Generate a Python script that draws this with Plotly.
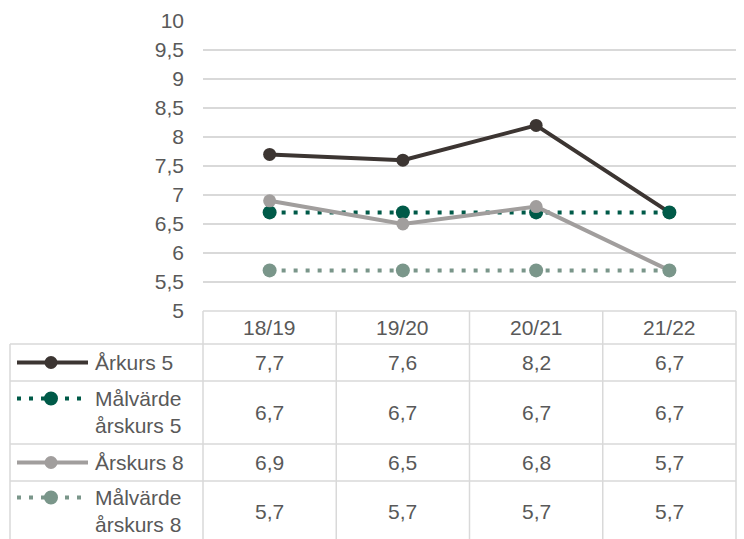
import plotly.graph_objects as go

# ---------------- data ----------------
years = ["18/19", "19/20", "20/21", "21/22"]
series_names = ["Årkurs 5", "Målvärde\nårskurs 5", "Årskurs 8", "Målvärde\nårskurs 8"]
arkurs5 = [7.7, 7.6, 8.2, 6.7]
malvarde5 = [6.7, 6.7, 6.7, 6.7]
arskurs8 = [6.9, 6.5, 6.8, 5.7]
malvarde8 = [5.7, 5.7, 5.7, 5.7]
y_tick_vals = [5, 5.5, 6, 6.5, 7, 7.5, 8, 8.5, 9, 9.5, 10]

# ---------------- styling / layout constants ----------------
W, H = 744, 539
PLOT_L, PLOT_R, PLOT_T, PLOT_B = 203, 736, 21, 311
TABLE_L = 10
ROW_EDGES = [311, 344, 381, 444, 481, 542]
FONT = "Liberation Sans, Arial, sans-serif"
FS = 21
TXT = "#595959"
GRID = "#D9D9D9"

styles = [
    dict(color="#3C3532", dash="solid", msize=13),
    dict(color="#005A48", dash="4px,8px", msize=14),
    dict(color="#A19E9D", dash="solid", msize=13),
    dict(color="#7A968A", dash="4px,8px", msize=14),
]
all_series = [arkurs5, malvarde5, arskurs8, malvarde8]


def px(x):
    return x / W


def py(y):
    return 1 - y / H


x_idx = list(range(len(years)))

fig = go.Figure()
for name, vals, st in zip(series_names, all_series, styles):
    fig.add_trace(go.Scatter(
        x=x_idx, y=vals, name=name.replace("\n", " "), mode="lines+markers",
        line=dict(color=st["color"], width=4, dash=st["dash"]),
        marker=dict(color=st["color"], size=st["msize"]),
        showlegend=False, hoverinfo="skip",
    ))

shapes = []
annotations = []

n = len(years)
col_w = (PLOT_R - PLOT_L) / n
col_edges = [PLOT_L + i * col_w for i in range(n + 1)]

line_style = dict(color=GRID, width=1.5)
# header top border (only over the value columns)
shapes.append(dict(type="line", xref="paper", yref="paper", x0=px(PLOT_L), x1=px(PLOT_R),
                   y0=py(ROW_EDGES[0]), y1=py(ROW_EDGES[0]), line=line_style, layer="below"))
# row borders (the last row runs to the bottom edge of the picture)
for ye in ROW_EDGES[1:-1]:
    shapes.append(dict(type="line", xref="paper", yref="paper", x0=px(TABLE_L), x1=px(PLOT_R),
                       y0=py(ye), y1=py(ye), line=line_style, layer="below"))
BOTTOM = H + 2
shapes.append(dict(type="line", xref="paper", yref="paper", x0=px(TABLE_L), x1=px(TABLE_L),
                   y0=py(ROW_EDGES[1]), y1=py(BOTTOM), line=line_style, layer="below"))
for xe in col_edges:
    shapes.append(dict(type="line", xref="paper", yref="paper", x0=px(xe), x1=px(xe),
                       y0=py(ROW_EDGES[0]), y1=py(BOTTOM), line=line_style, layer="below"))

for i, yr in enumerate(years):
    annotations.append(dict(x=px((col_edges[i] + col_edges[i + 1]) / 2),
                            y=py((ROW_EDGES[0] + ROW_EDGES[1]) / 2),
                            xref="paper", yref="paper", text=yr, showarrow=False,
                            xanchor="center", yanchor="middle",
                            font=dict(family=FONT, size=FS, color=TXT)))

for r, (name, vals, st) in enumerate(zip(series_names, all_series, styles)):
    top, bot = ROW_EDGES[r + 1], ROW_EDGES[r + 2]
    cy = (top + bot) / 2
    for i, v in enumerate(vals):
        annotations.append(dict(x=px((col_edges[i] + col_edges[i + 1]) / 2), y=py(cy),
                                xref="paper", yref="paper", text=f"{v:.1f}".replace(".", ","),
                                showarrow=False, xanchor="center", yanchor="middle",
                                font=dict(family=FONT, size=FS, color=TXT)))
    lines = name.split("\n")
    if len(lines) == 1:
        line_ys = [cy]
    else:
        line_ys = [cy - 14, cy + 13]
    for t, ly in zip(lines, line_ys):
        annotations.append(dict(x=px(93), y=py(ly), xref="paper", yref="paper", text=t,
                                showarrow=False, xanchor="left", yanchor="middle",
                                font=dict(family=FONT, size=FS, color=TXT)))
    ky = line_ys[0]
    shapes.append(dict(type="line", xref="paper", yref="paper", x0=px(17), x1=px(88),
                       y0=py(ky), y1=py(ky),
                       line=dict(color=st["color"], width=4, dash=st["dash"]), layer="above"))
    d = st["msize"]
    shapes.append(dict(type="circle", xref="paper", yref="paper",
                       x0=px(51 - d / 2), x1=px(51 + d / 2), y0=py(ky + d / 2), y1=py(ky - d / 2),
                       fillcolor=st["color"], line=dict(width=0), layer="above"))

fig.update_layout(
    width=W, height=H,
    margin=dict(l=0, r=0, t=0, b=0, autoexpand=False),
    paper_bgcolor="white", plot_bgcolor="white",
    separators=", ",
    font=dict(family=FONT, size=FS, color=TXT),
    xaxis=dict(domain=[px(PLOT_L), px(PLOT_R)], range=[-0.5, n - 0.5], automargin=False,
               showgrid=False, zeroline=False, showticklabels=False, showline=False,
               fixedrange=True),
    yaxis=dict(domain=[py(PLOT_B), py(PLOT_T)], range=[5, 10], tickvals=y_tick_vals,
               automargin=False,
               showgrid=True, gridcolor=GRID, gridwidth=1.5, zeroline=False, showline=False,
               ticks="", ticklabelstandoff=18,
               tickfont=dict(family=FONT, size=FS, color=TXT), fixedrange=True),
    shapes=shapes, annotations=annotations,
    showlegend=False,
)

fig.write_html(
    "out.html",
    config={"responsive": False, "displayModeBar": False},
    post_script="document.body.style.margin='0';document.body.style.overflow='hidden';",
)
